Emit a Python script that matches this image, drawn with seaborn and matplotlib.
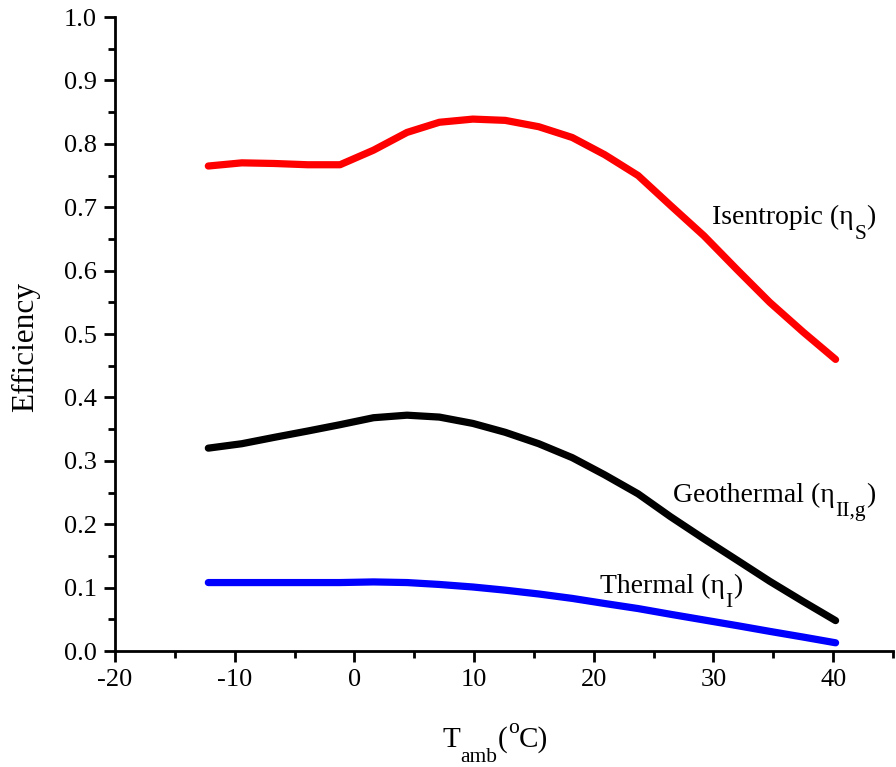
import numpy as np
import pandas as pd
import matplotlib
matplotlib.use("Agg")
import matplotlib.pyplot as plt
import seaborn as sns
from matplotlib.ticker import MultipleLocator, FormatStrFormatter

# ---- data ----
t_amb = [-12.2, -9.4, -6.7, -3.9, -1.2, 1.6, 4.4, 7.1, 9.9, 12.6,
         15.4, 18.2, 20.9, 23.7, 26.4, 29.2, 32.0, 34.7, 37.5, 40.2]
eta_isentropic = [0.765, 0.770, 0.769, 0.767, 0.767, 0.790, 0.818, 0.834, 0.839, 0.837,
                  0.827, 0.810, 0.783, 0.750, 0.703, 0.655, 0.601, 0.550, 0.503, 0.460]
eta_geothermal = [0.320, 0.327, 0.337, 0.347, 0.357, 0.368, 0.372, 0.369, 0.359, 0.345,
                  0.327, 0.305, 0.278, 0.248, 0.212, 0.177, 0.143, 0.110, 0.078, 0.048]
eta_thermal = [0.108, 0.108, 0.108, 0.108, 0.108, 0.109, 0.108, 0.105, 0.101, 0.096,
               0.090, 0.083, 0.075, 0.067, 0.058, 0.049, 0.040, 0.031, 0.022, 0.013]
series_names = ["Isentropic", "Geothermal", "Thermal"]
series_colors = ["#ff0000", "#000000", "#0000ff"]
label_main = ["Isentropic (η", "Geothermal (η", "Thermal (η"]
label_sub = ["S", "II,g", "I"]
label_pos = [(29.9, 0.673), (26.6, 0.235), (20.5, 0.092)]

df = pd.DataFrame({
    "T": t_amb * 3,
    "eff": eta_isentropic + eta_geothermal + eta_thermal,
    "series": [s for s in series_names for _ in t_amb],
})

sns.set_style("ticks")
plt.rcParams["font.family"] = ["Liberation Serif", "DejaVu Serif"]
plt.rcParams["axes.unicode_minus"] = False
for k in ["text.color", "axes.labelcolor", "xtick.color", "ytick.color", "axes.edgecolor"]:
    plt.rcParams[k] = "black"

fig = plt.figure(figsize=(8.96, 7.67), dpi=100)
ax = fig.add_axes([0.1283, 0.1512, 0.8684, 0.8266])

sns.lineplot(data=df, x="T", y="eff", hue="series", palette=dict(zip(series_names, series_colors)),
             linewidth=5.2, legend=False, ax=ax, solid_capstyle="round", solid_joinstyle="round")


def sub_label(x, y, main, sub, tail, size=20, subsize=15.5, drop=-6.0, transform=None):
    kw = {} if transform is None else {"transform": transform}
    t1 = ax.text(x, y, main, fontsize=size, ha="left", va="baseline", **kw)
    t2 = ax.annotate(sub, xy=(1, 0), xycoords=t1, xytext=(0.3, drop),
                     textcoords="offset points", fontsize=subsize, ha="left", va="baseline")
    t3 = ax.annotate(tail, xy=(1, 0), xycoords=(t2, t1), xytext=(0.3, 0),
                     textcoords="offset points", fontsize=size, ha="left", va="bottom")
    return t1, t2, t3


for m, s, (x, y) in zip(label_main, label_sub, label_pos):
    sub_label(x, y, m, s, ")")

ax.set_xlim(-20, 45)
ax.set_ylim(0, 1.0)
ax.xaxis.set_major_locator(MultipleLocator(10))
ax.xaxis.set_minor_locator(MultipleLocator(5))
ax.yaxis.set_major_locator(MultipleLocator(0.1))
ax.yaxis.set_minor_locator(MultipleLocator(0.05))
ax.yaxis.set_major_formatter(FormatStrFormatter("%.1f"))
ax.tick_params(which="major", length=8, width=2, direction="out", labelsize=19, pad=5)
ax.tick_params(which="minor", length=5, width=2, direction="out")
for s in ["left", "bottom"]:
    ax.spines[s].set_linewidth(2)
for s in ["right", "top"]:
    ax.spines[s].set_visible(False)

# x axis label T_amb(°C), built from pieces to match sub/superscript placement
ax.set_xlabel("")
tT = ax.text(0.4216, -0.1514, "T", transform=ax.transAxes, fontsize=21, ha="left", va="baseline")
ta = ax.annotate("amb", xy=(1, 0), xycoords=tT, xytext=(0, -6.8), textcoords="offset points",
                 fontsize=15.5, ha="left", va="baseline")
tp = ax.annotate("(", xy=(1, 0), xycoords=(ta, tT), fontsize=21, ha="left", va="bottom")
to = ax.annotate("o", xy=(1, 0), xycoords=(tp, tT), xytext=(0.3, 14.5), textcoords="offset points",
                 fontsize=15.5, ha="left", va="baseline")
tc = ax.annotate("C)", xy=(1, 0), xycoords=(to, tT), xytext=(0.3, 0), textcoords="offset points",
                 fontsize=21, ha="left", va="bottom")

ax.set_ylabel("Efficiency", fontsize=22.5)
ax.yaxis.set_label_coords(-0.096, 0.48)

fig.savefig("out.png", dpi=100)
